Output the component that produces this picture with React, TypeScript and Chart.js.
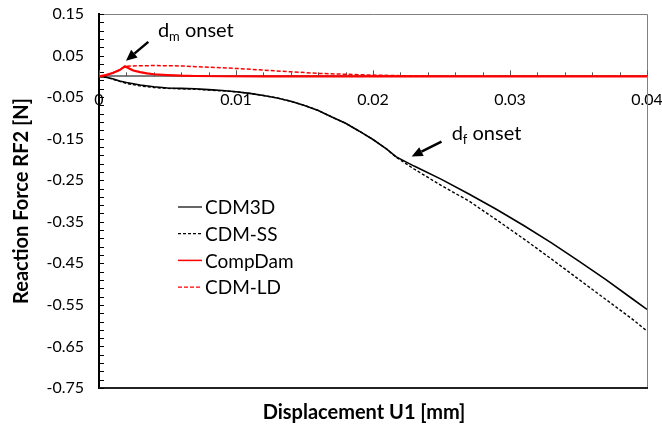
import React, { useEffect, useRef } from "react";
import { Chart, registerables } from "chart.js";

Chart.register(...registerables);

// ---- Data ----
const cdm3dX = [0, 0.0005, 0.001, 0.0015, 0.002, 0.003, 0.004, 0.005, 0.006, 0.007, 0.008, 0.009, 0.010, 0.011, 0.012, 0.013, 0.014, 0.015, 0.016, 0.017, 0.018, 0.019, 0.020, 0.021, 0.0217, 0.023, 0.025, 0.027, 0.029, 0.031, 0.033, 0.035, 0.037, 0.039, 0.040];
const cdm3dY = [0, -0.002, -0.006, -0.011, -0.015, -0.021, -0.025, -0.028, -0.029, -0.030, -0.032, -0.034, -0.037, -0.041, -0.046, -0.052, -0.060, -0.070, -0.082, -0.098, -0.113, -0.132, -0.152, -0.175, -0.194, -0.216, -0.248, -0.283, -0.320, -0.359, -0.400, -0.444, -0.489, -0.537, -0.561];

const cdmSsX = [0, 0.0005, 0.001, 0.0015, 0.002, 0.003, 0.004, 0.005, 0.006, 0.007, 0.008, 0.009, 0.010, 0.011, 0.012, 0.013, 0.014, 0.015, 0.016, 0.017, 0.018, 0.019, 0.020, 0.021, 0.0217, 0.023, 0.025, 0.027, 0.029, 0.031, 0.033, 0.035, 0.037, 0.039, 0.040];
const cdmSsY = [0, -0.002, -0.007, -0.012, -0.017, -0.023, -0.027, -0.029, -0.030, -0.031, -0.033, -0.035, -0.037, -0.041, -0.046, -0.052, -0.060, -0.070, -0.082, -0.098, -0.113, -0.132, -0.152, -0.175, -0.195, -0.223, -0.263, -0.300, -0.345, -0.391, -0.439, -0.488, -0.537, -0.586, -0.613];

const compDamX = [0, 0.0005, 0.001, 0.0015, 0.0019, 0.0022, 0.0025, 0.003, 0.0035, 0.004, 0.005, 0.006, 0.007, 0.009, 0.012, 0.040];
const compDamY = [0, 0.003, 0.008, 0.015, 0.024, 0.019, 0.014, 0.010, 0.007, 0.005, 0.003, 0.0015, 0.0008, 0.0002, 0, 0];

const cdmLdX = [0, 0.0005, 0.001, 0.0015, 0.0019, 0.0025, 0.004, 0.006, 0.008, 0.010, 0.012, 0.014, 0.016, 0.018, 0.020, 0.022, 0.025, 0.028, 0.040];
const cdmLdY = [0, 0.003, 0.008, 0.015, 0.024, 0.025, 0.026, 0.025, 0.022, 0.019, 0.015, 0.011, 0.007, 0.005, 0.003, 0.0015, 0.0003, 0, 0];

const seriesLabels = ["CDM3D", "CDM-SS", "CompDam", "CDM-LD"];
const xTicks = [0, 0.01, 0.02, 0.03, 0.04];
const yTicks = [-0.75, -0.65, -0.55, -0.45, -0.35, -0.25, -0.15, -0.05, 0.05, 0.15];
const xTitle = "Displacement U1 [mm]";
const yTitle = "Reaction Force RF2 [N]";
const dmNote = { main: "d", sub: "m", rest: " onset", x: 0.0043, y: 0.0946, tailX: 0.0036, tailY: 0.083, headX: 0.00197, headY: 0.0375 };
const dfNote = { main: "d", sub: "f", rest: " onset", x: 0.02574, y: -0.153, tailX: 0.0250, tailY: -0.157, headX: 0.02282, headY: -0.193 };

const FONT = "Lato, 'Open Sans', sans-serif";

function pts(xs: number[], ys: number[]) {
  return xs.map((x, i) => ({ x, y: ys[i] }));
}

function drawArrow(ctx: CanvasRenderingContext2D, x1: number, y1: number, x2: number, y2: number) {
  const ang = Math.atan2(y2 - y1, x2 - x1);
  const headLen = 11;
  const headW = 5;
  const bx = x2 - headLen * Math.cos(ang);
  const by = y2 - headLen * Math.sin(ang);
  ctx.save();
  ctx.strokeStyle = "#000";
  ctx.fillStyle = "#000";
  ctx.lineWidth = 2.5;
  ctx.setLineDash([]);
  ctx.beginPath();
  ctx.moveTo(x1, y1);
  ctx.lineTo(bx, by);
  ctx.stroke();
  ctx.beginPath();
  ctx.moveTo(x2, y2);
  ctx.lineTo(bx + headW * Math.sin(ang), by - headW * Math.cos(ang));
  ctx.lineTo(bx - headW * Math.sin(ang), by + headW * Math.cos(ang));
  ctx.closePath();
  ctx.fill();
  ctx.restore();
}

const framePlugin = {
  id: "frame",
  beforeDatasetsDraw(chart: any) {
    const { ctx, chartArea: a, scales } = chart;
    const xs = scales.x, ys = scales.y;
    ctx.save();
    ctx.setLineDash([]);
    // top & right border
    ctx.strokeStyle = "#808080";
    ctx.lineWidth = 1;
    ctx.beginPath();
    ctx.moveTo(a.left, a.top + 0.5);
    ctx.lineTo(a.right + 0.5, a.top + 0.5);
    ctx.lineTo(a.right + 0.5, a.bottom);
    ctx.stroke();
    // bottom border
    ctx.strokeStyle = "#222";
    ctx.lineWidth = 2;
    ctx.beginPath();
    ctx.moveTo(a.left, a.bottom);
    ctx.lineTo(a.right + 1, a.bottom);
    ctx.stroke();
    // y minor/major ticks (inside)
    ctx.strokeStyle = "#000";
    ctx.lineWidth = 1;
    for (let i = 0; i <= 45; i++) {
      const v = -0.75 + i * 0.02;
      const py = Math.round(ys.getPixelForValue(v)) + 0.5;
      ctx.beginPath();
      ctx.moveTo(a.left, py);
      ctx.lineTo(a.left + 5, py);
      ctx.stroke();
    }
    // x ticks (upwards from zero line)
    const y0 = ys.getPixelForValue(0);
    ctx.strokeStyle = "#555";
    for (let i = 0; i <= 20; i++) {
      const v = i * 0.002;
      const px = Math.round(xs.getPixelForValue(v)) + 0.5;
      const len = i % 5 === 0 ? 6 : 4;
      ctx.beginPath();
      ctx.moveTo(px, y0);
      ctx.lineTo(px, y0 - len);
      ctx.stroke();
    }
    ctx.restore();
  },
  afterDraw(chart: any) {
    const { ctx, chartArea: a, scales } = chart;
    const xs = scales.x, ys = scales.y;
    ctx.save();
    // legend
    const lx = a.left + 79;
    const ly0 = a.top + 193;
    const step = 26.7;
    chart.data.datasets.forEach((ds: any, i: number) => {
      const y = ly0 + i * step;
      ctx.strokeStyle = ds.borderColor;
      ctx.lineWidth = ds.label === "CompDam" ? 1.5 : 1.2;
      ctx.setLineDash(ds.borderDash || []);
      ctx.beginPath();
      ctx.moveTo(lx, y);
      ctx.lineTo(lx + 24, y);
      ctx.stroke();
      ctx.setLineDash([]);
      ctx.fillStyle = "#000";
      ctx.font = `19px ${FONT}`;
      ctx.textBaseline = "middle";
      ctx.textAlign = "left";
      ctx.fillText(ds.label, lx + 27, y + 1);
    });
    // annotations
    [dmNote, dfNote].forEach((n) => {
      const tx = xs.getPixelForValue(n.x);
      const ty = ys.getPixelForValue(n.y);
      ctx.fillStyle = "#000";
      ctx.textBaseline = "alphabetic";
      ctx.textAlign = "left";
      ctx.font = `20px ${FONT}`;
      ctx.fillText(n.main, tx, ty);
      let cx = tx + ctx.measureText(n.main).width;
      ctx.font = `13px ${FONT}`;
      ctx.fillText(n.sub, cx, ty + 4);
      cx += ctx.measureText(n.sub).width;
      ctx.font = `20px ${FONT}`;
      ctx.fillText(n.rest, cx, ty);
      drawArrow(ctx, xs.getPixelForValue(n.tailX), ys.getPixelForValue(n.tailY), xs.getPixelForValue(n.headX), ys.getPixelForValue(n.headY));
    });
    // axis titles
    ctx.fillStyle = "#000";
    ctx.font = `bold 20px ${FONT}`;
    ctx.textAlign = "center";
    ctx.textBaseline = "middle";
    ctx.fillText(xTitle, 364, 413);
    ctx.translate(22, (a.top + a.bottom) / 2);
    ctx.rotate(-Math.PI / 2);
    ctx.fillText(yTitle, 0, 0);
    ctx.restore();
  },
};

export default function App() {
  const ref = useRef<HTMLCanvasElement | null>(null);
  useEffect(() => {
    if (!ref.current) return;
    const chart = new Chart(ref.current, {
      type: "scatter",
      data: {
        datasets: [
          { label: seriesLabels[0], data: pts(cdm3dX, cdm3dY), borderColor: "#000000", borderWidth: 1.6, showLine: true, pointRadius: 0, order: 2 },
          { label: seriesLabels[1], data: pts(cdmSsX, cdmSsY), borderColor: "#000000", borderWidth: 1.4, borderDash: [3, 2], showLine: true, pointRadius: 0, order: 3 },
          { label: seriesLabels[2], data: pts(compDamX, compDamY), borderColor: "#ff0000", borderWidth: 2.2, showLine: true, pointRadius: 0, order: 0 },
          { label: seriesLabels[3], data: pts(cdmLdX, cdmLdY), borderColor: "#ff0000", borderWidth: 1.5, borderDash: [4, 2], showLine: true, pointRadius: 0, order: 1 },
        ],
      },
      options: {
        responsive: false,
        animation: false,
        devicePixelRatio: 1,
        layout: { padding: { left: 0, right: 15, top: 14, bottom: 41 } },
        plugins: { legend: { display: false }, tooltip: { enabled: false }, title: { display: false } },
        scales: {
          x: {
            type: "linear",
            position: { y: 0 } as any,
            min: 0,
            max: 0.04,
            afterBuildTicks: (s: any) => { s.ticks = xTicks.map((v) => ({ value: v })); },
            afterFit: (s: any) => { s.paddingLeft = 0; s.paddingRight = 0; },
            ticks: {
              autoSkip: false,
              maxRotation: 0,
              padding: 14,
              color: "#000",
              font: { family: FONT, size: 16 },
              callback: (v: any) => (v === 0 ? "0" : String(+Number(v).toFixed(2))),
            },
            grid: { display: false, drawTicks: false },
            border: { display: true, color: "#7f7f7f", width: 2 },
          },
          y: {
            type: "linear",
            position: "left",
            min: -0.75,
            max: 0.15,
            afterBuildTicks: (s: any) => { s.ticks = yTicks.map((v) => ({ value: v })); },
            afterFit: (s: any) => { s.width = 99; s.paddingTop = 0; s.paddingBottom = 0; },
            ticks: {
              autoSkip: false,
              padding: 15,
              color: "#000",
              font: { family: FONT, size: 16 },
              callback: (v: any) => Number(v).toFixed(2),
            },
            grid: { display: false, drawTicks: false },
            border: { display: true, color: "#000", width: 2 },
          },
        },
      },
      plugins: [framePlugin],
    });
    return () => chart.destroy();
  }, []);
  return (
    <div style={{ position: "fixed", left: 0, top: 0, width: 662, height: 429 }}>
      <canvas ref={ref} width={662} height={429} style={{ display: "block" }} />
    </div>
  );
}
